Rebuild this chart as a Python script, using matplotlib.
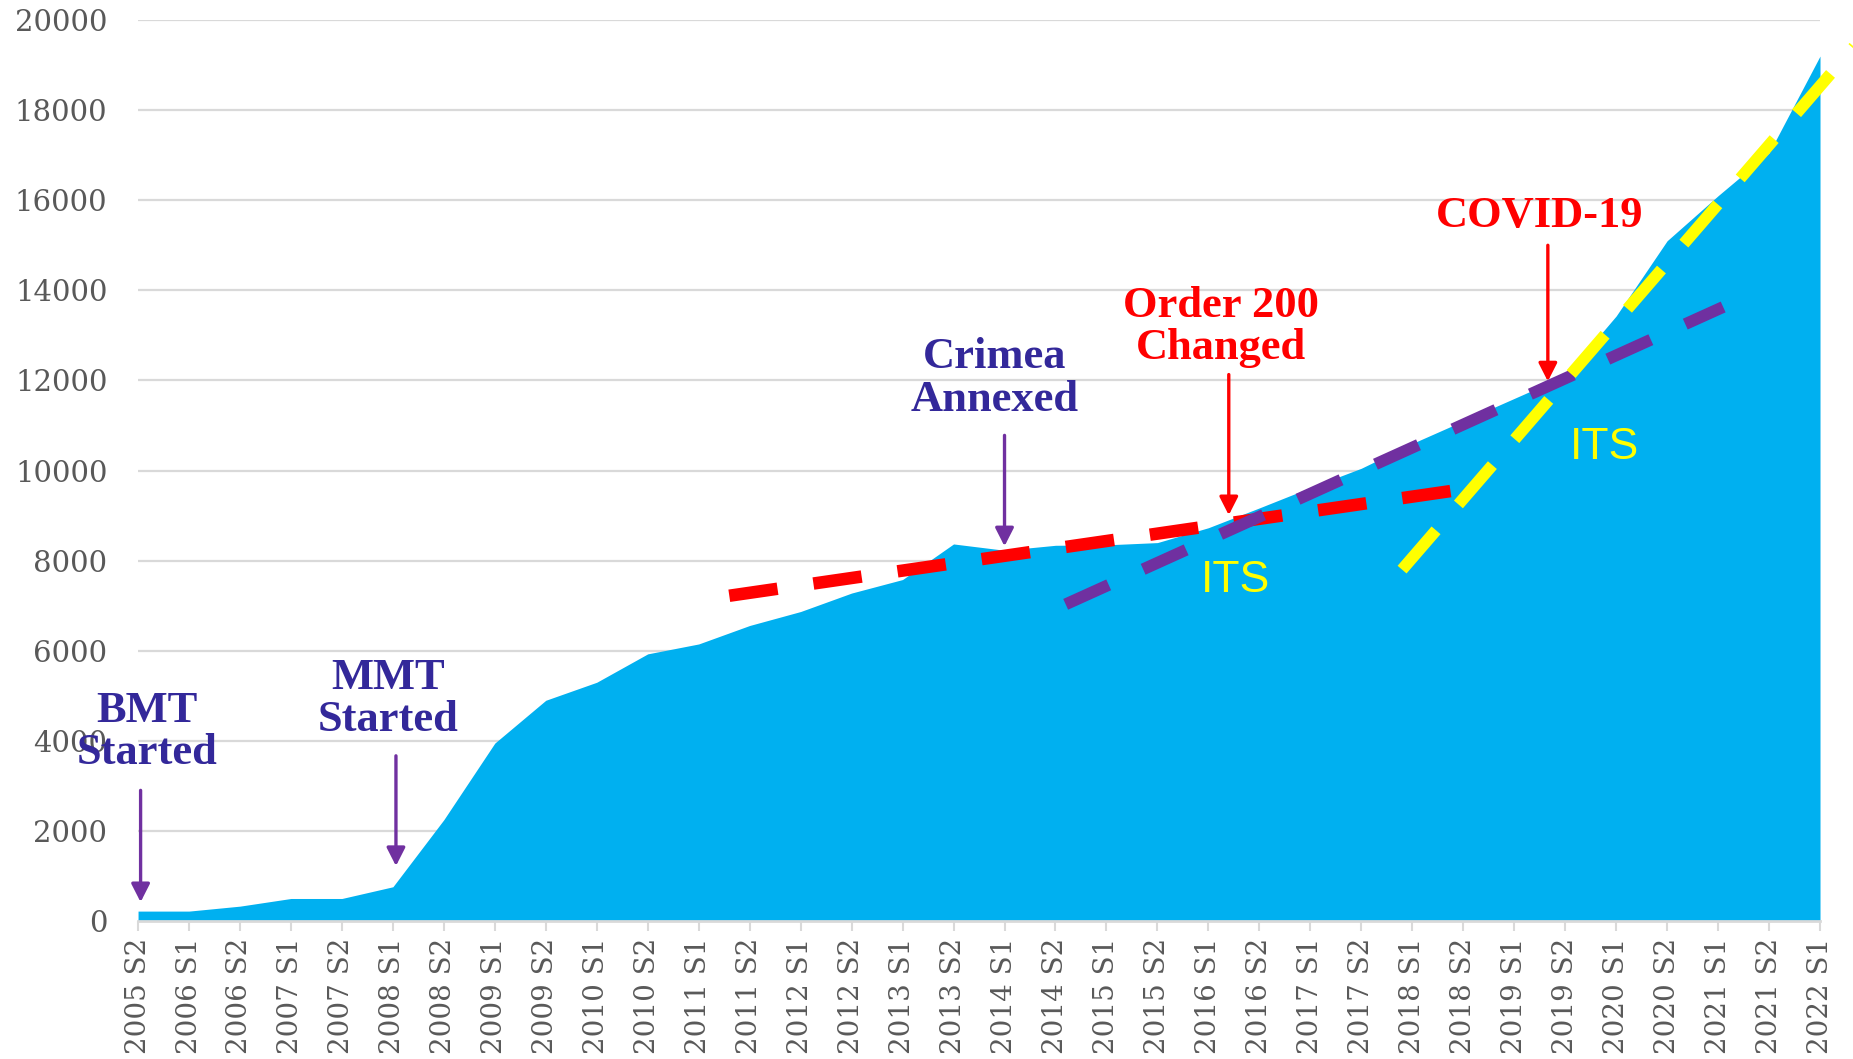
import numpy as np
import matplotlib
matplotlib.use('Agg')
import matplotlib.pyplot as plt

# half-year periods shown on the x axis
periods = ['2005 S2', '2006 S1', '2006 S2', '2007 S1', '2007 S2', '2008 S1', '2008 S2',
           '2009 S1', '2009 S2', '2010 S1', '2010 S2', '2011 S1', '2011 S2', '2012 S1',
           '2012 S2', '2013 S1', '2013 S2', '2014 S1', '2014 S2', '2015 S1', '2015 S2',
           '2016 S1', '2016 S2', '2017 S1', '2017 S2', '2018 S1', '2018 S2', '2019 S1',
           '2019 S2', '2020 S1', '2020 S2', '2021 S1', '2021 S2', '2022 S1']

values = [220, 220, 330, 500, 500, 760, 2250, 3950, 4900, 5300, 5930, 6150, 6560, 6870,
          7280, 7580, 8370, 8230, 8340, 8350, 8400, 8730, 9170, 9620, 10050, 10600,
          11100, 11600, 12100, 13430, 15100, 16100, 17050, 19200]

# hand-drawn trend segments (period index, value)
red_x, red_y = [11.6, 26.4], [7220, 9650]
purple_x, purple_y = [18.2, 31.1], [7030, 13630]
yellow_x, yellow_y = [24.8, 33.7], [7800, 19450]

yticks = list(range(0, 20001, 2000))

AREA = '#00B0F0'
GRID = '#D9D9D9'
TICK_TXT = '#595959'
INDIGO = '#33289A'
PURPLE = '#7030A0'
RED = '#FF0000'
YELLOW = '#FFFF00'

serif = ['Liberation Serif', 'DejaVu Serif']

fig = plt.figure(figsize=(18.53, 10.59), dpi=100)
ax = fig.add_axes([0.0745, 0.1303, 0.9077, 0.8508])

x = np.arange(len(periods))
ax.fill_between(x, 0, values, color=AREA, linewidth=0, zorder=2)

ax.set_xlim(0, len(periods) - 1)
ax.set_ylim(0, 20000)
ax.set_yticks(yticks)
ax.set_yticklabels([str(v) for v in yticks])
ax.set_xticks(x)
ax.set_xticklabels(periods, rotation=90)

ax.grid(axis='y', color=GRID, linewidth=1.6, zorder=1)
ax.set_axisbelow(True)
for s in ['left', 'right', 'top']:
    ax.spines[s].set_visible(False)
ax.spines['bottom'].set_color(GRID)
ax.spines['bottom'].set_linewidth(2)
ax.spines['bottom'].set_zorder(3)

ax.tick_params(axis='y', length=0, pad=22, labelsize=21, labelcolor=TICK_TXT)
ax.tick_params(axis='x', length=7, width=1.5, color=GRID, pad=5,
               labelsize=20, labelcolor=TICK_TXT)
for lab in ax.get_xticklabels() + ax.get_yticklabels():
    lab.set_fontfamily('DejaVu Serif')

# dashed trend lines
ax.plot(red_x, red_y, color=RED, linewidth=9, dashes=(3.9, 2.9),
        dash_capstyle='butt', zorder=4)
ax.plot(purple_x, purple_y, color=PURPLE, linewidth=8.5, dashes=(4.0, 3.2),
        dash_capstyle='butt', zorder=5)
ax.plot(yellow_x, yellow_y, color=YELLOW, linewidth=8.5, dashes=(4.4, 2.9),
        dash_capstyle='butt', zorder=6, clip_on=False)


def event(label, txt_xy, tail, tip, tcolor, acolor):
    ax.text(txt_xy[0], txt_xy[1], label, color=tcolor, fontsize=32,
            fontweight='bold', family=serif, ha='center', va='center',
            linespacing=1.08, zorder=8)
    ax.annotate('', xy=tip, xytext=tail,
                arrowprops=dict(arrowstyle='-|>,head_length=0.55,head_width=0.28',
                                color=acolor, lw=2.4, shrinkA=0, shrinkB=0,
                                mutation_scale=20),
                zorder=7)


event('BMT\nStarted', (0.17, 4200), (0.05, 2900), (0.05, 420), INDIGO, PURPLE)
event('MMT\nStarted', (4.9, 4930), (5.06, 3667), (5.06, 1222), INDIGO, PURPLE)
event('Crimea\nAnnexed', (16.8, 12040), (17.0, 10780), (17.0, 8320), INDIGO, PURPLE)
event('Order 200\nChanged', (21.25, 13190), (21.4, 12130), (21.4, 9010), RED, RED)
event('COVID-19', (27.5, 15650), (27.66, 15000), (27.66, 11980), RED, RED)

sans = ['Liberation Sans', 'DejaVu Sans']
ax.text(21.54, 7550, 'ITS', color=YELLOW, fontsize=32, family=sans,
        ha='center', va='center', zorder=8)
ax.text(28.78, 10520, 'ITS', color=YELLOW, fontsize=32, family=sans,
        ha='center', va='center', zorder=8)

fig.savefig('out.png', dpi=100)
